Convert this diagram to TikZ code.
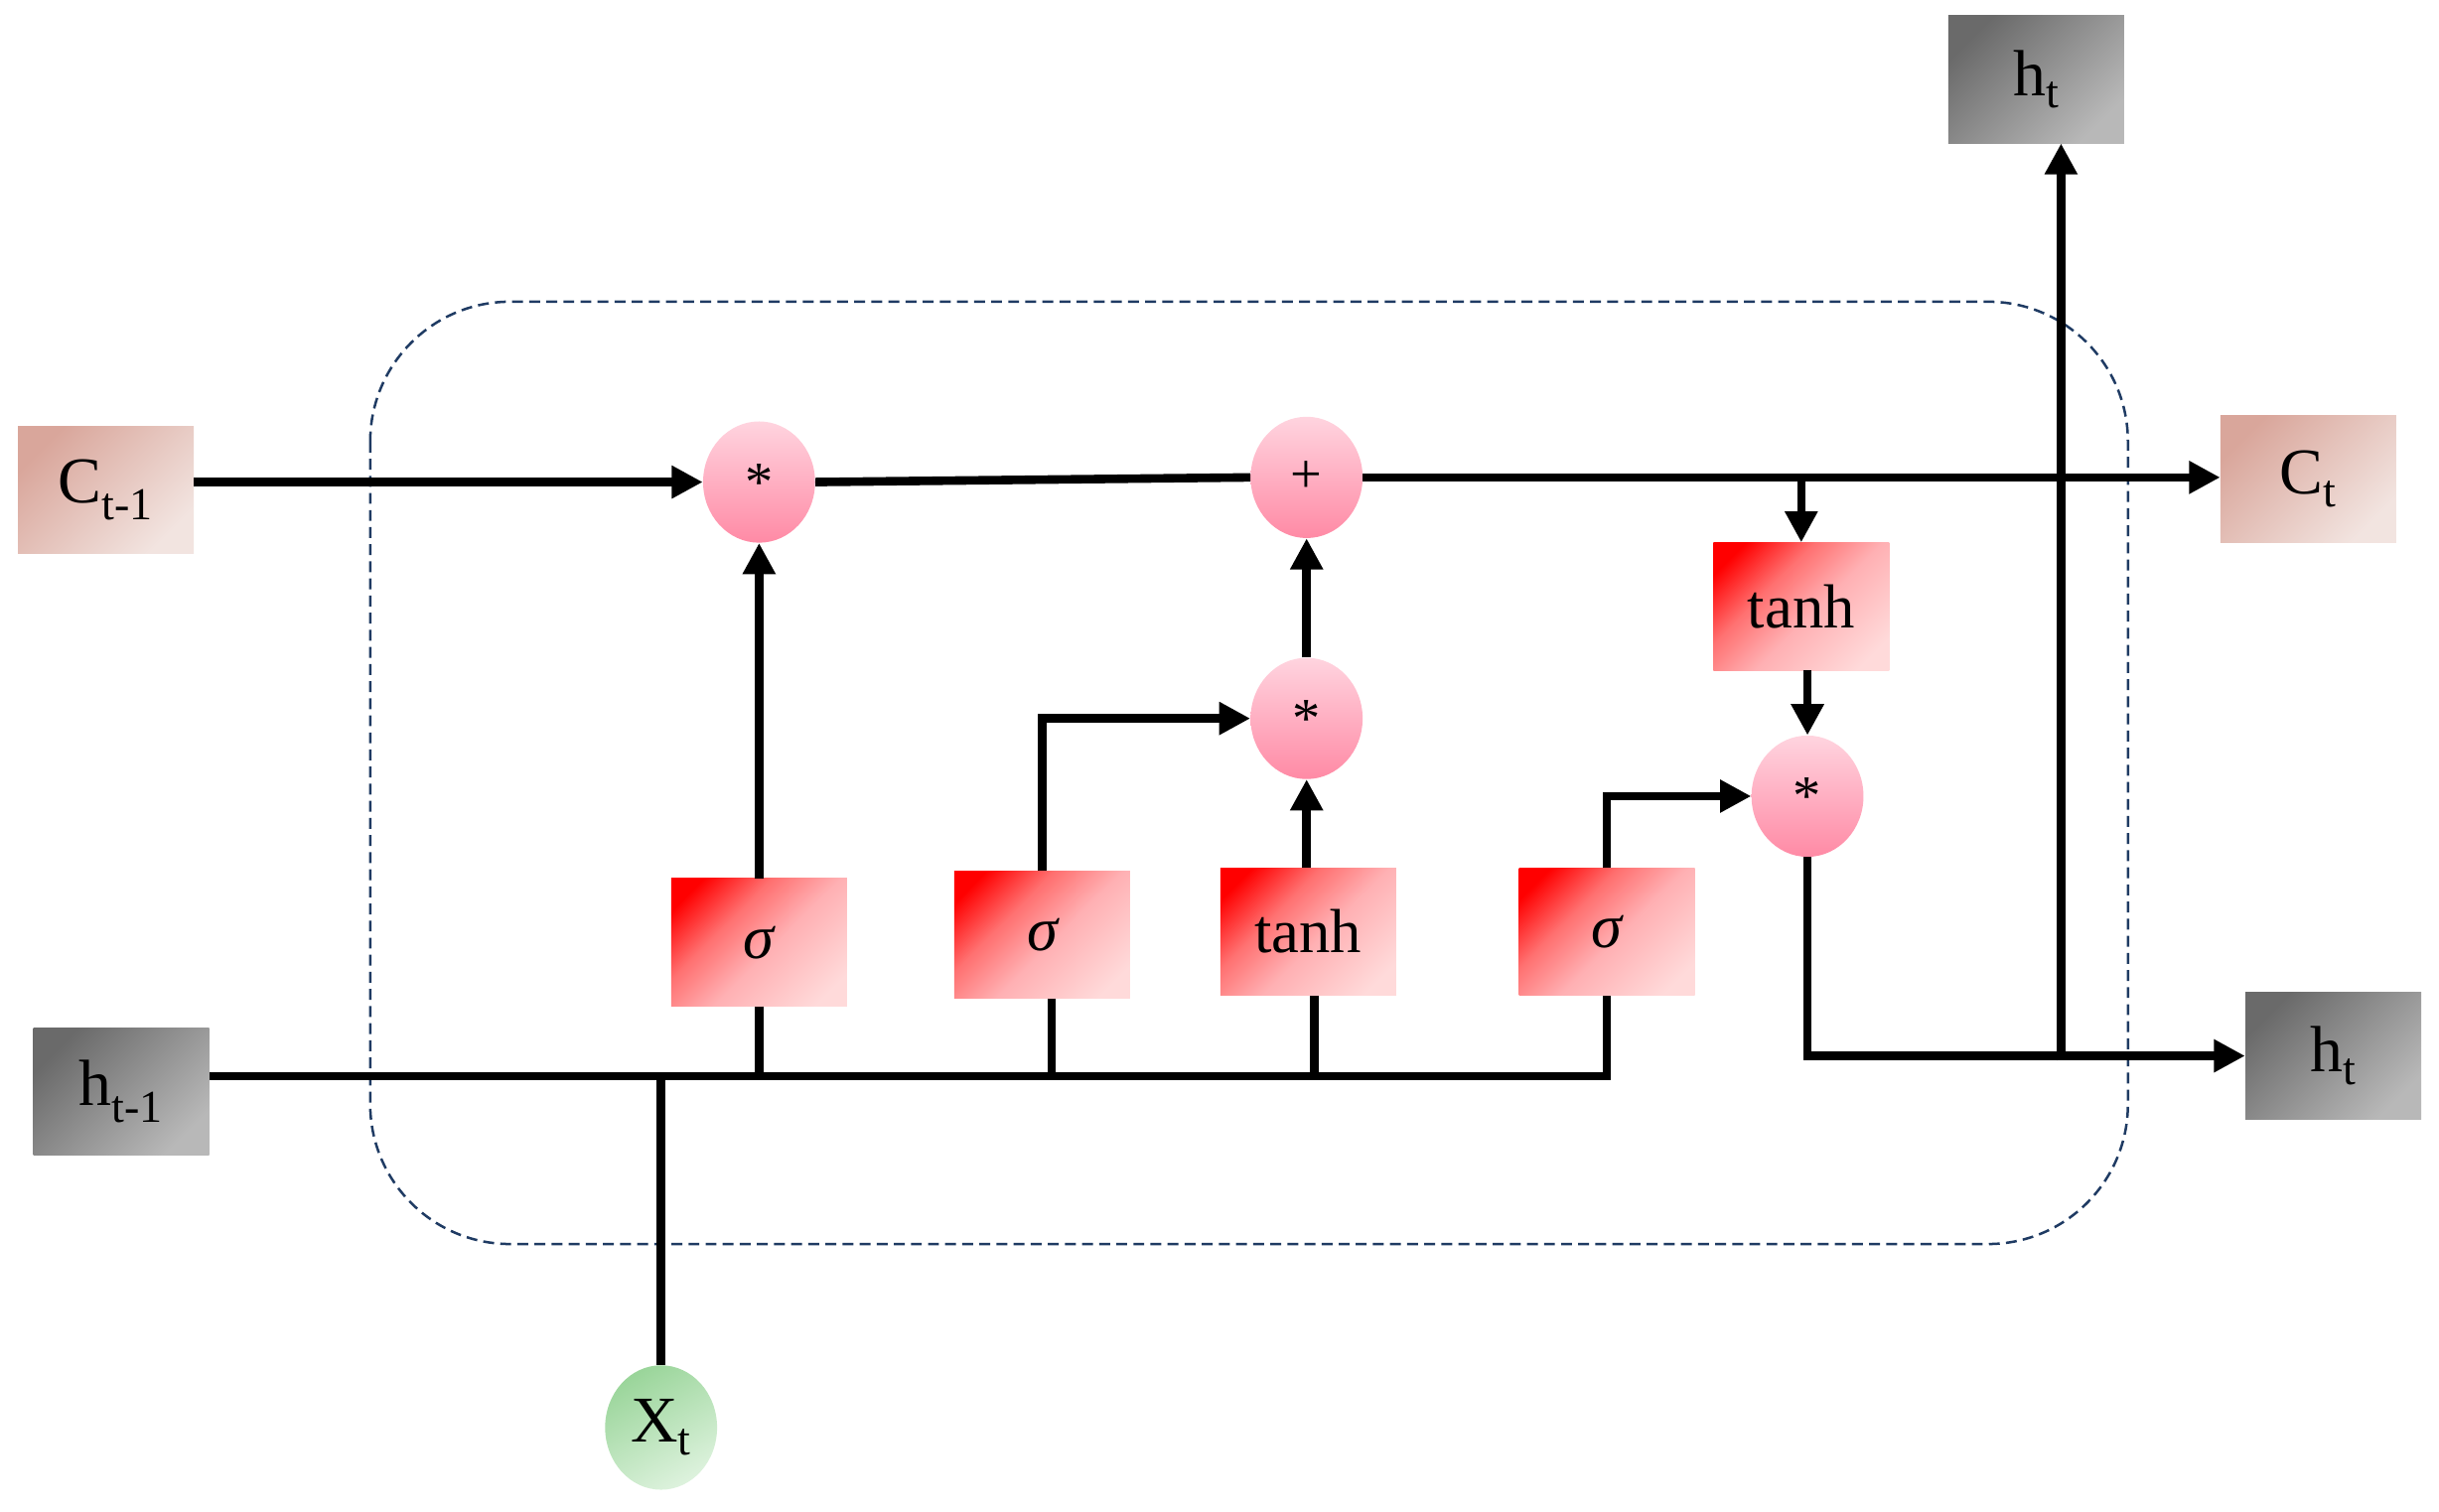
\documentclass[tikz,border=0pt]{standalone}
\usepackage{fontspec}
\setmainfont{Liberation Serif}
\usetikzlibrary{arrows.meta,shapes.geometric}
\definecolor{navy}{HTML}{1F3B63}
\definecolor{cdark}{HTML}{D9A69B}
\definecolor{clight}{HTML}{F2E4E0}
\definecolor{hdark}{HTML}{6A6A6A}
\definecolor{hlight}{HTML}{B8B8B8}
\definecolor{rpinkA}{HTML}{FFB0B3}
\definecolor{rpinkB}{HTML}{FFDADA}
\definecolor{rmid}{HTML}{FF7070}
\definecolor{ctop}{HTML}{FFD4DF}
\definecolor{cbot}{HTML}{FF8AA5}
\definecolor{gdark}{HTML}{9AD59A}
\definecolor{glight}{HTML}{DDF2DD}
\pgfdeclareverticalshading{redgrad}{100bp}{color(0bp)=(rpinkB); color(22bp)=(rpinkB); color(46bp)=(rpinkA); color(62bp)=(rmid); color(78bp)=(red); color(100bp)=(red)}
\newcommand{\sig}{{\itshape σ}}
\newcommand{\mstar}{\raisebox{-0.3em}{*}}
\begin{document}
\begin{tikzpicture}[x=1pt,y=-1pt,
  wire/.style={line width=5.5pt,black},
  arr/.style={wire,-{Triangle[length=20pt,width=20pt]}},
  cbox/.style={rectangle,inner sep=0pt,minimum width=113pt,minimum height=82pt,
    top color=cdark,bottom color=clight,shading angle=45,font=\fontsize{42}{50}\selectfont},
  hbox/.style={rectangle,inner sep=0pt,minimum width=113pt,minimum height=82pt,
    top color=hdark,bottom color=hlight,shading angle=45,font=\fontsize{42}{50}\selectfont},
  gate/.style={rectangle,inner sep=0pt,minimum width=113pt,minimum height=82pt,
    shading=redgrad,shading angle=45,font=\fontsize{40}{48}\selectfont},
  op/.style={ellipse,inner sep=0pt,minimum width=72pt,minimum height=78pt,
    top color=ctop,bottom color=cbot,font=\fontsize{36}{42}\selectfont},
  xin/.style={ellipse,inner sep=0pt,minimum width=72pt,minimum height=80pt,
    top color=gdark,bottom color=glight,shading angle=30,font=\fontsize{42}{50}\selectfont},
  cell/.style={draw=navy,line width=1.6pt,dash pattern=on 7pt off 4pt,rounded corners=90pt}
]
\useasboundingbox (0,0) rectangle (1568,972);
% cell boundary
\draw[cell] (238,194) rectangle (1368,800);
% nodes
\node[cbox] (cprev) at (68,315) {C\textsubscript{t-1}};
\node[hbox] (hprev) at (78,702) {h\textsubscript{t-1}};
\node[xin] (xt) at (425,918) {X\textsubscript{t}};
\node[cbox] (ct) at (1484,308) {C\textsubscript{t}};
\node[hbox] (ht) at (1500,679) {h\textsubscript{t}};
\node[hbox] (htop) at (1309,51) {h\textsubscript{t}};
\node[op] (m1) at (488,310) {\mstar};
\node[op] (plus) at (840,307) {+};
\node[op] (m2) at (840,462) {\mstar};
\node[op] (m3) at (1162,512) {\mstar};
\node[gate] (s1) at (488,606) {\sig};
\node[gate] (s2) at (670,601) {\sig};
\node[gate] (t2) at (841,599) {tanh};
\node[gate] (s3) at (1033,599) {\sig};
\node[gate] (t3) at (1158,390) {tanh};
% helper coordinates
\coordinate (hy) at (0,692);
\coordinate (hj) at (1325,682);
% connectors
\draw[arr] (cprev.east |- m1) -- (m1.west);
\draw[wire] (m1.east) -- (plus.west);
\draw[arr] (plus.east) -- (ct.west |- plus);
\draw[arr] (t3.north |- plus) -- (t3.north);
\draw[arr] (m3.north |- t3.south) -- (m3.north);
\draw[wire] (hprev.east |- hy) -| (s3.south);
\draw[wire] (s1.south) -- (s1.south |- hy);
\draw[wire] ([xshift=6pt]s2.south) -- ([xshift=6pt]s2.south |- hy);
\draw[wire] ([xshift=4pt]t2.south) -- ([xshift=4pt]t2.south |- hy);
\draw[wire] (xt.north) -- (xt.north |- hy);
\draw[arr] (s1.north) -- (m1.south);
\draw[arr] (s2.north) |- (m2.west);
\draw[arr] (m2.south |- t2.north) -- (m2.south);
\draw[arr] (m2.north) -- (plus.south);
\draw[arr] (s3.north) |- (m3.west);
\draw[arr] (m3.south) |- (ht.west);
\draw[arr] (hj) -- (hj |- htop.south);
\end{tikzpicture}
\end{document}
